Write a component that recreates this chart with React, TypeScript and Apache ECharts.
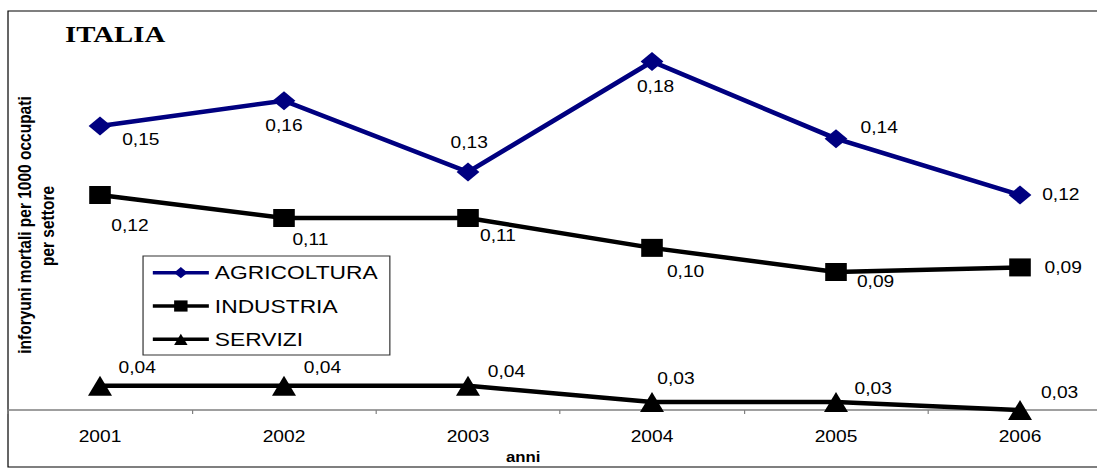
import React, { useEffect, useRef } from "react";
import * as echarts from "echarts";

// ---- data ----
const years = ["2001", "2002", "2003", "2004", "2005", "2006"];
const seriesNames = ["AGRICOLTURA", "INDUSTRIA", "SERVIZI"];
const agricoltura = [0.15, 0.161, 0.13, 0.178, 0.1445, 0.12];
const industria = [0.12, 0.11, 0.11, 0.097, 0.0865, 0.0885];
const servizi = [0.037, 0.037, 0.037, 0.03, 0.03, 0.0265];

const chartTitle = "ITALIA";
const yTitle1 = "inforyuni mortali per 1000 occupati";
const yTitle2 = "per settore";
const xTitle = "anni";

// ---- label offsets (layout only) ----
const agriOffsets = [[34, 14], [0, 25], [1, -29], [3, 25], [36, -11], [34, 0]];
const indOffsets = [[25, 31], [22, 22], [25, 18], [28, 24], [33, 10], [36, 0]];
const servOffsets = [[31, -18], [32, -18], [32, -14], [20, -23], [31, -13], [33, -17]];

const SANS = "Liberation Sans";
const SERIF = "Liberation Serif";

const fmt = (p: any) => Number(p.value).toFixed(2).replace(".", ",");

function makeSeries(name: string, values: number[], offsets: number[][], symbol: string, size: number, color: string) {
  return {
    name,
    type: "line",
    data: values.map((v, i) => ({ value: v, label: { offset: offsets[i] } })),
    symbol,
    symbolSize: size,
    showSymbol: true,
    lineStyle: { color, width: 4.5 },
    itemStyle: { color, borderWidth: 0 },
    label: {
      show: true,
      position: "inside",
      formatter: fmt,
      fontSize: 16,
      color: "#000",
      fontFamily: SANS,
      align: "center",
      verticalAlign: "middle",
      textBorderWidth: 0,
    },
    emphasis: { disabled: true },
  };
}

export default function App() {
  const ref = useRef<HTMLDivElement>(null);

  useEffect(() => {
    if (!ref.current) return;
    const chart = echarts.init(ref.current, undefined, { renderer: "svg" });
    const option: any = {
      animation: false,
      backgroundColor: "#fff",
      grid: { left: 6.67, right: 3.33, top: 11, bottom: 58, containLabel: false },
      xAxis: {
        type: "category",
        data: years,
        boundaryGap: true,
        axisLine: { show: true, lineStyle: { color: "#808080", width: 1.5 } },
        axisTick: { show: true, length: 4, lineStyle: { color: "#808080" } },
        axisLabel: { fontSize: 16, color: "#000", fontFamily: SANS, margin: 19 },
        splitLine: { show: false },
      },
      yAxis: { type: "value", min: 0.0265, max: 0.2, show: false },
      legend: {
        data: seriesNames,
        orient: "vertical",
        left: 119.2,
        top: 256,
        itemWidth: 46.7,
        itemHeight: 14,
        itemGap: 14.3,
        padding: [7.2, 10, 6.2, 6.4],
        borderColor: "#333",
        borderWidth: 1,
        backgroundColor: "#fff",
        selectedMode: false,
        textStyle: { fontSize: 19, color: "#000", fontFamily: SANS, lineHeight: 19 },
        lineStyle: { width: 3.5 },
      },
      series: [
        makeSeries(seriesNames[0], agricoltura, agriOffsets, "diamond", 19, "#000080"),
        makeSeries(seriesNames[1], industria, indOffsets, "rect", 18, "#000000"),
        makeSeries(seriesNames[2], servizi, servOffsets, "triangle", 20, "#000000"),
      ],
      graphic: [
        {
          type: "rect",
          silent: true,
          z: -10,
          shape: { x: 6.67, y: 11, width: 1000, height: 456 },
          style: { fill: "none", stroke: "#000", lineWidth: 1 },
        },
        {
          type: "text",
          x: 54.2,
          y: 33.4,
          style: {
            text: chartTitle,
            fontSize: 24,
            fontWeight: "bold",
            fontFamily: SERIF,
            fill: "#000",
            align: "left",
            verticalAlign: "middle",
          },
        },
        {
          type: "text",
          x: 20.8,
          y: 225,
          rotation: Math.PI / 2,
          style: {
            text: yTitle1,
            fontSize: 15.5,
            fontWeight: "bold",
            fontFamily: SANS,
            fill: "#000",
            align: "center",
            verticalAlign: "middle",
          },
        },
        {
          type: "text",
          x: 40,
          y: 226,
          rotation: Math.PI / 2,
          style: {
            text: yTitle2,
            fontSize: 15.5,
            fontWeight: "bold",
            fontFamily: SANS,
            fill: "#000",
            align: "center",
            verticalAlign: "middle",
          },
        },
        {
          type: "text",
          x: 436,
          y: 457,
          style: {
            text: xTitle,
            fontSize: 14,
            fontWeight: "bold",
            fontFamily: SANS,
            fill: "#000",
            align: "center",
            verticalAlign: "middle",
          },
        },
      ],
    };
    chart.setOption(option);
    return () => chart.dispose();
  }, []);

  return (
    <div
      style={{
        position: "absolute",
        left: 0,
        top: 0,
        width: 1097,
        height: 468,
        overflow: "hidden",
        background: "#fff",
      }}
    >
      <div
        ref={ref}
        style={{ width: 930, height: 468, transform: "scaleX(1.2)", transformOrigin: "0 0" }}
      />
    </div>
  );
}
